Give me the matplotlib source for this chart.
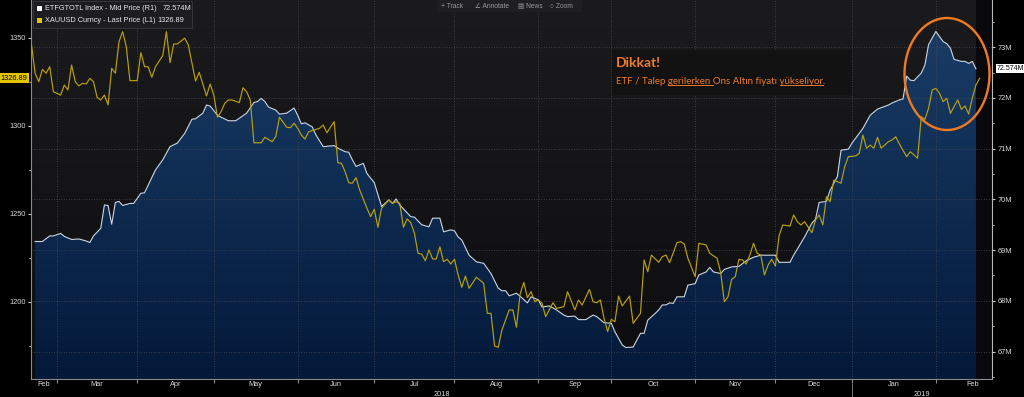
import numpy as np
import pandas as pd
import matplotlib
matplotlib.use("Agg")
import matplotlib.pyplot as plt
from matplotlib.colors import LinearSegmentedColormap
from matplotlib.patches import Ellipse, Rectangle
from matplotlib.lines import Line2D
from matplotlib.transforms import blended_transform_factory

# --- DATA (x = business days since START) ---
START = "2018-02-19"

etf_day = [2, 4, 6, 7, 9, 10, 12, 14, 16, 17, 18, 20, 21, 22, 23, 24, 25, 26, 28, 29,
           31, 32, 33, 35, 37, 39, 41, 43, 45, 46, 48, 49, 50, 52, 53, 55, 57, 59, 60, 62,
           63, 64, 65, 66, 68, 69, 71, 73, 74, 75, 76, 78, 79, 81, 84, 85, 87, 88, 89, 90,
           92, 93, 95, 97, 99, 100, 101, 102, 105, 106, 108, 110, 111, 113, 114, 116, 117, 118, 119, 121,
           123, 125, 127, 129, 130, 131, 132, 134, 135, 137, 138, 140, 141, 143, 145, 147, 148, 150, 151, 153,
           155, 156, 158, 160, 161, 163, 164, 166, 168, 169, 170, 172, 173, 174, 175, 176, 177, 178, 180, 181,
           183, 184, 186, 187, 188, 190, 191, 193, 195, 197, 199, 201, 203, 205, 206, 209, 210, 213, 215, 216,
           217, 219, 220, 222, 223, 225, 226, 229, 231, 233, 236, 237, 239, 240, 241, 242, 243, 245, 246, 247,
           249, 251, 252, 253, 254, 256, 257, 258, 259, 260]
etf_val = [69.17, 69.17, 69.28, 69.28, 69.33, 69.27, 69.21, 69.22, 69.18, 69.15, 69.28, 69.43, 69.89, 69.88, 69.51, 69.94, 69.96, 69.88, 69.92, 69.92,
           70.12, 70.13, 70.28, 70.58, 70.78, 71.04, 71.11, 71.30, 71.58, 71.59, 71.70, 71.86, 71.84, 71.66, 71.62, 71.55, 71.55, 71.65, 71.70, 71.91,
           71.93, 71.99, 71.93, 71.82, 71.76, 71.68, 71.70, 71.80, 71.66, 71.49, 71.51, 71.43, 71.27, 71.04, 71.06, 71.01, 70.94, 70.93, 70.78, 70.65,
           70.71, 70.51, 70.33, 69.86, 69.99, 69.92, 70.01, 69.89, 69.66, 69.65, 69.50, 69.46, 69.63, 69.63, 69.36, 69.40, 69.38, 69.26, 69.20, 68.90,
           68.77, 68.74, 68.54, 68.25, 68.20, 68.20, 68.10, 68.15, 68.09, 67.96, 68.08, 68.02, 67.88, 67.90, 67.82, 67.72, 67.69, 67.70, 67.63, 67.63,
           67.72, 67.69, 67.57, 67.56, 67.39, 67.13, 67.08, 67.09, 67.36, 67.36, 67.62, 67.75, 67.82, 67.92, 67.92, 67.96, 67.95, 68.08, 68.08, 68.31,
           68.34, 68.51, 68.57, 68.66, 68.57, 68.54, 68.62, 68.67, 68.68, 68.79, 68.86, 68.90, 68.90, 68.90, 68.76, 68.76, 68.90, 69.26, 69.53, 69.61,
           69.94, 69.96, 70.18, 70.45, 70.97, 70.99, 71.11, 71.40, 71.66, 71.78, 71.86, 71.90, 71.96, 71.98, 72.43, 72.35, 72.34, 72.49, 72.65, 73.05,
           73.31, 73.11, 73.07, 72.98, 72.76, 72.72, 72.72, 72.68, 72.72, 72.574]

gold_day = [1, 2, 3, 4, 5, 6, 7, 9, 10, 11, 12, 13, 14, 15, 16, 17, 18, 19, 20, 21,
            22, 23, 24, 25, 26, 27, 28, 30, 31, 32, 33, 34, 35, 37, 38, 39, 40, 41, 43, 44,
            46, 47, 49, 50, 51, 52, 53, 54, 55, 56, 58, 59, 60, 61, 62, 64, 65, 67, 68, 69,
            71, 72, 73, 74, 75, 76, 77, 78, 80, 81, 82, 84, 85, 86, 87, 88, 89, 90, 91, 93,
            94, 95, 96, 97, 99, 100, 101, 102, 103, 104, 105, 106, 107, 108, 109, 110, 111, 112, 113, 114,
            115, 116, 117, 118, 119, 120, 121, 123, 125, 126, 127, 128, 129, 130, 132, 133, 134, 135, 136, 137,
            138, 139, 140, 141, 142, 144, 145, 147, 148, 150, 151, 152, 154, 155, 156, 157, 158, 159, 160, 161,
            162, 163, 165, 166, 168, 169, 170, 171, 173, 174, 175, 176, 178, 179, 180, 181, 183, 184, 186, 187,
            189, 190, 191, 192, 193, 194, 195, 196, 197, 198, 199, 200, 201, 202, 203, 204, 205, 206, 207, 209,
            210, 211, 212, 213, 214, 215, 216, 217, 218, 219, 220, 221, 223, 224, 225, 227, 228, 229, 230, 231,
            232, 233, 234, 236, 237, 238, 239, 241, 242, 243, 244, 245, 246, 247, 248, 249, 250, 251, 252, 253,
            255, 256, 257, 258, 259, 260, 261]
gold_val = [1346.0, 1329.8, 1325.0, 1332.0, 1329.8, 1333.5, 1319.3, 1317.4, 1323.1, 1320.3, 1334.5, 1325.0, 1322.6, 1324.1, 1323.7, 1326.9, 1325.0, 1316.1, 1314.6, 1317.4,
            1311.8, 1332.6, 1329.8, 1347.7, 1353.4, 1344.9, 1325.6, 1325.6, 1341.5, 1333.5, 1333.5, 1327.5, 1333.5, 1339.8, 1353.4, 1335.8, 1346.4, 1346.4, 1349.7, 1345.9,
            1325.4, 1330.3, 1316.9, 1323.7, 1317.4, 1304.8, 1308.0, 1312.7, 1314.6, 1314.6, 1313.1, 1321.6, 1319.3, 1314.6, 1290.3, 1290.3, 1293.4, 1290.9, 1293.8, 1304.8,
            1299.1, 1298.9, 1301.4, 1298.5, 1294.7, 1292.4, 1296.6, 1297.2, 1298.5, 1300.4, 1296.0, 1302.3, 1279.0, 1278.6, 1273.9, 1267.6, 1267.3, 1270.5, 1263.5, 1253.1,
            1248.3, 1252.5, 1242.3, 1253.1, 1257.8, 1255.9, 1256.8, 1255.9, 1242.3, 1247.0, 1244.9, 1239.0, 1227.5, 1227.1, 1223.3, 1229.4, 1224.3, 1224.3, 1231.2, 1222.7,
            1224.1, 1221.4, 1224.1, 1215.2, 1208.2, 1214.6, 1207.6, 1213.9, 1210.5, 1193.4, 1193.4, 1174.8, 1174.1, 1183.9, 1195.3, 1195.3, 1185.5, 1204.4, 1211.0, 1202.3,
            1205.7, 1200.0, 1201.0, 1199.1, 1191.5, 1199.4, 1196.2, 1197.2, 1205.7, 1195.3, 1201.0, 1198.1, 1207.0, 1200.0, 1199.4, 1201.0, 1190.6, 1183.0, 1190.0, 1188.6,
            1203.2, 1197.6, 1203.2, 1187.7, 1193.4, 1223.7, 1217.0, 1226.5, 1222.4, 1225.6, 1226.5, 1222.2, 1233.5, 1234.1, 1232.8, 1224.7, 1214.2, 1233.2, 1232.2, 1227.5,
            1224.7, 1216.5, 1200.0, 1202.8, 1212.7, 1214.2, 1224.1, 1223.7, 1221.4, 1226.5, 1233.2, 1227.5, 1226.5, 1215.2, 1220.9, 1224.1, 1220.3, 1237.3, 1243.6, 1243.0,
            1249.3, 1245.5, 1243.6, 1245.5, 1242.3, 1239.2, 1246.4, 1249.3, 1243.6, 1259.7, 1256.8, 1269.1, 1267.3, 1276.7, 1282.4, 1282.8, 1284.3, 1294.7, 1287.2, 1289.0,
            1287.2, 1293.4, 1287.2, 1290.9, 1291.9, 1293.7, 1289.6, 1282.4, 1285.2, 1283.4, 1281.5, 1305.1, 1303.6, 1309.9, 1320.3, 1321.2, 1318.4, 1313.6, 1315.6, 1307.0,
            1314.6, 1309.3, 1311.2, 1306.6, 1315.6, 1323.1, 1326.89]

gold_ticks = [1200, 1250, 1300, 1350]
etf_ticks = [67, 68, 69, 70, 71, 72, 73]
etf_label = "ETFGTOTL Index - Mid Price (R1)"
gold_label = "XAUUSD Curncy - Last Price (L1)"

# --- STYLE ---
W, H = 1024, 397
ORANGE = "#ee7a2c"
GOLD = "#b9a010"
ETF_LINE = "#cdd5e0"
GRID = "#4a4a52"
AXIS_TXT = "#d8d8d8"
FONT = ["Liberation Sans", "DejaVu Sans"]
plt.rcParams["font.family"] = FONT


def fx(px):
    return px / W


def fy(py):
    return 1 - py / H


xmin, xmax = 0.87, 264.4
dates = pd.bdate_range(START, periods=280)
months = dates.to_period("M")
starts = np.flatnonzero(months[1:] != months[:-1]) + 1
nxt = starts[starts > xmax][0]
starts = starts[starts < xmax]

fig = plt.figure(figsize=(W / 100, H / 100), dpi=100, facecolor="black")
ax = fig.add_axes([31 / W, 18 / H, 961 / W, 379 / H])
ax2 = ax.twinx()
ax.set_zorder(2)
ax.patch.set_visible(False)

# background of plot area
bg_cmap = LinearSegmentedColormap.from_list("bg", ["#0d0d0f", "#1b1b1e"])
grad = np.linspace(0, 1, 256).reshape(-1, 1)
ax2.imshow(grad, cmap=bg_cmap, origin="lower", aspect="auto",
           extent=[0, 1, 0, 1], transform=ax2.transAxes, zorder=0)
ax2.axvspan(etf_day[-1], xmax, color="#09090d", zorder=0.5, lw=0)

# ETF area with gradient fill
ymin2, ymax2 = 66.46, 73.93
fill = ax2.fill_between(etf_day, etf_val, ymin2, facecolor="none", edgecolor="none")
fill_cmap = LinearSegmentedColormap.from_list("fill", ["#03193a", "#1b3f69"])
im = ax2.imshow(grad, cmap=fill_cmap, origin="lower", aspect="auto",
                extent=[xmin, xmax, ymin2, ymax2], zorder=1)
im.set_clip_path(fill.get_paths()[0], transform=ax2.transData)
ax2.plot(etf_day, etf_val, color=ETF_LINE, lw=0.8, zorder=3)

# grid
for v in etf_ticks:
    ax2.axhline(v, color=GRID, lw=0.6, ls=(0, (1, 2)), zorder=2.5)
for s in starts:
    ax2.axvline(s, color=GRID, lw=0.6, ls=(0, (1, 2)), zorder=2.5)

# gold line
ax.plot(gold_day, gold_val, color=GOLD, lw=0.85, zorder=3)

# axes styling
for a in (ax, ax2):
    a.spines["top"].set_visible(False)
ax.spines["left"].set_color("#8a8a8a")
ax.spines["bottom"].set_color("#8a8a8a")
ax.spines["right"].set_visible(False)
ax2.spines["left"].set_visible(False)
ax2.spines["bottom"].set_visible(False)
ax2.spines["right"].set_color("#b8b8b8")
for a in (ax, ax2):
    for sp in a.spines.values():
        sp.set_linewidth(0.8)

ax.set_yticks(gold_ticks)
ax.set_yticks(np.arange(1175, 1375, 25), minor=True)
ax.tick_params(axis="y", which="both", direction="out", length=2, color="#cccccc",
               labelsize=5.3, labelcolor=AXIS_TXT, pad=1.5)
ax.tick_params(axis="y", which="minor", length=1.5)

ax2.set_yticks(etf_ticks)
ax2.set_yticklabels([f"{v}M" for v in etf_ticks])
ax2.set_yticks(np.arange(66.5, 74, 0.5), minor=True)
ax2.tick_params(axis="y", which="both", direction="out", length=2.5, color="#cccccc",
                labelsize=5.3, labelcolor=AXIS_TXT, pad=1.5)
ax2.tick_params(axis="y", which="minor", length=1.5)

# month ticks + centred labels
ax.set_xticks(starts)
ax.set_xticklabels([])
bounds = np.r_[xmin, starts]
ends = np.r_[starts, nxt]
ax.set_xticks((bounds + ends) / 2, minor=True)
ax.set_xticklabels([dates[0].strftime("%b")] + [dates[s].strftime("%b") for s in starts], minor=True)
ax.tick_params(axis="x", which="major", direction="out", length=3, color="#8a8a8a")
ax.tick_params(axis="x", which="minor", length=0, labelsize=5.3, labelcolor=AXIS_TXT, pad=1.5)

ax.set_xlim(xmin, xmax)
ax.set_ylim(1156.1, 1371.4)
ax2.set_ylim(ymin2, ymax2)

# years
jan = [s for s in starts if dates[s].month == 1][0]
tr = blended_transform_factory(ax.transData, ax.transAxes)
ax.text((xmin + jan) / 2, -0.042, str(dates[0].year), transform=tr, ha="center", va="center",
        fontsize=5.3, color=AXIS_TXT)
ax.text((jan + xmax) / 2, -0.042, str(dates[jan].year), transform=tr, ha="center", va="center",
        fontsize=5.3, color=AXIS_TXT)
ax.plot([jan, jan], [-0.012, -0.06], transform=tr, color="#8a8a8a", lw=0.6, clip_on=False)

# last value tags
trl = blended_transform_factory(ax.transAxes, ax.transData)
ax.text(-0.004, gold_val[-1], f"{gold_val[-1]:.2f}", transform=trl, ha="right", va="center",
        fontsize=5.3, color="black",
        bbox=dict(boxstyle="square,pad=0.2", fc="#e3c400", ec="none"))
trr = blended_transform_factory(ax2.transAxes, ax2.transData)
ax2.text(1.005, etf_val[-1], f"{etf_val[-1]:.3f}M", transform=trr, ha="left", va="center",
         fontsize=5, color="black",
         bbox=dict(boxstyle="square,pad=0.15", fc="white", ec="none"))

# legend box
fig.add_artist(Rectangle((fx(33), fy(28)), fx(159), 27 / H, transform=fig.transFigure,
                         fc="#1d1d20", ec="#3a3a3f", lw=0.6, zorder=5))
fig.add_artist(Rectangle((fx(37), fy(11)), fx(5), 5 / H, transform=fig.transFigure,
                         fc="white", ec="none", zorder=6))
fig.add_artist(Rectangle((fx(37), fy(22.5)), fx(5), 5 / H, transform=fig.transFigure,
                         fc="#e3c400", ec="none", zorder=6))
fig.text(fx(45), fy(8.5), etf_label, fontsize=5.3, color="#e8e8e8", va="center", zorder=6)
fig.text(fx(163), fy(8.5), f"{etf_val[-1]:.3f}M", fontsize=5.3, color="#e8e8e8", va="center", zorder=6)
fig.text(fx(45), fy(20), gold_label, fontsize=5.3, color="#e8e8e8", va="center", zorder=6)
fig.text(fx(157), fy(20), f"{gold_val[-1]:.2f}", fontsize=5.3, color="#e8e8e8", va="center", zorder=6)

# toolbar
fig.add_artist(Rectangle((fx(437), fy(12)), fx(145), 12 / H, transform=fig.transFigure,
                         fc="#1f1f22", ec="none", zorder=5))
for xp, s in [(441, "+ Track"), (475, "∠ Annotate"), (518, "▤ News"), (550, "○ Zoom")]:
    fig.text(fx(xp), fy(6), s, fontsize=4.8, color="#9a9a9a", va="center", zorder=6)

# annotation box
fig.add_artist(Rectangle((fx(612), fy(95)), fx(240), 45 / H, transform=fig.transFigure,
                         fc="#121213", ec="none", alpha=0.9, zorder=5))
fig.text(fx(616), fy(63), "Dikkat!", fontsize=10, fontweight="bold", family="Lato",
         color=ORANGE, va="center", zorder=6)
msg_parts = ["ETF / Talep ", "gerilerken ", "Ons Altın fiyatı ", "yükseliyor", "."]
msg_ul = [False, True, False, True, False]
base_y = 83.5
t = fig.text(fx(616), fy(base_y), "".join(msg_parts), fontsize=7, family="Lato",
             color=ORANGE, va="baseline", zorder=6)
r = fig.canvas.get_renderer()


def text_w(s):
    probe = fig.text(0, 0, s + "I", fontsize=7, family="Lato")
    ref = fig.text(0, 0, "I", fontsize=7, family="Lato")
    w = probe.get_window_extent(r).width - ref.get_window_extent(r).width
    probe.remove()
    ref.remove()
    return w


x0 = t.get_window_extent(r).x0
prefix = ""
for part, ul in zip(msg_parts, msg_ul):
    if ul:
        a = x0 + text_w(prefix)
        b = x0 + text_w(prefix + part)
        fig.add_artist(Line2D([a / W, b / W], [fy(base_y + 1.8)] * 2, transform=fig.transFigure,
                              color=ORANGE, lw=0.7, zorder=6))
    prefix += part

# highlight ellipse
fig.add_artist(Ellipse((fx(947), fy(74)), 85 / W, 112 / H, transform=fig.transFigure,
                       fill=False, ec="#f07a22", lw=1.7, zorder=7))

fig.savefig("out.png", dpi=100, facecolor="black")
